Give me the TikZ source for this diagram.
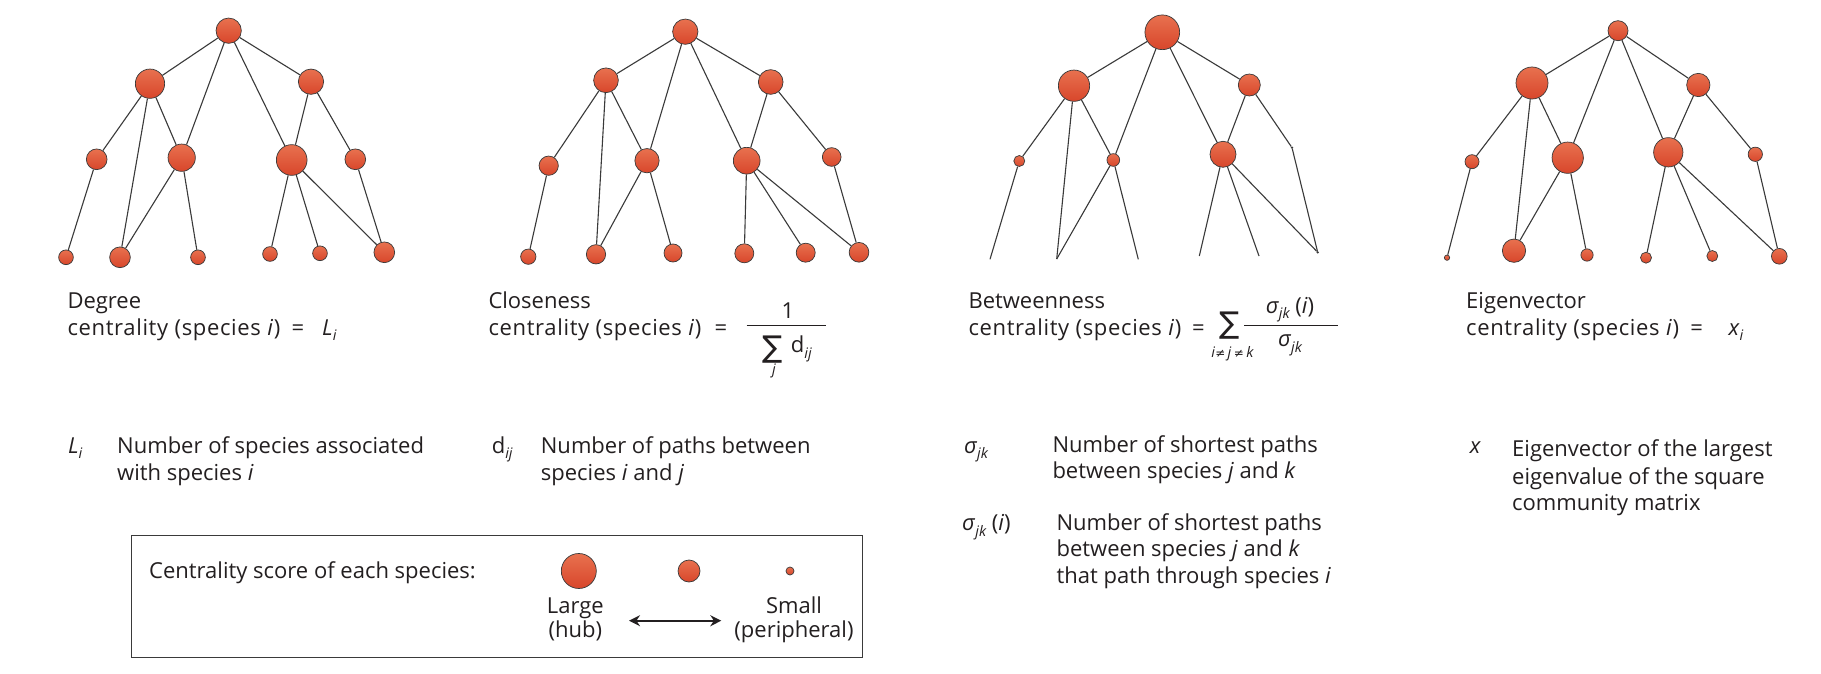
\documentclass[tikz,border=0pt]{standalone}
\usepackage{fontspec}
\setmainfont{Open Sans}
\newfontfamily\symf{DejaVu Sans}
\usetikzlibrary{arrows.meta}
\definecolor{nodetop}{HTML}{E8714F}
\definecolor{nodebot}{HTML}{D8462B}
\definecolor{txt}{HTML}{231F20}
\definecolor{ln}{HTML}{3A3A3A}
\newcommand\lsub[1]{\raisebox{-0.25em}{\fontsize{14.5}{14.5}\selectfont\itshape #1}}
\begin{document}
\begin{tikzpicture}[x=1pt,y=-1pt,
  sp/.style={circle,draw=ln,line width=0.7pt,top color=nodetop,bottom color=nodebot,inner sep=0pt,minimum size=#1},
  dot/.style={circle,fill=ln,inner sep=0pt,minimum size=2.6pt},
  edge/.style={draw=ln,line width=1.1pt},
  lbl/.style={font=\fontsize{22}{27}\selectfont,text=txt,inner sep=0pt,anchor=base west},
  lblc/.style={font=\fontsize{22}{27}\selectfont,text=txt,inner sep=0pt,anchor=base},
  wide/.style={font=\fontsize{22}{27}\selectfont\addfontfeature{LetterSpace=3}},
  sml/.style={font=\fontsize{14.5}{14.5}\selectfont,text=txt,inner sep=0pt,anchor=base},
  sumsym/.style={font=\symf\fontsize{30}{30}\selectfont,text=txt,inner sep=0pt,anchor=center}]
\fill[white] (0,0) rectangle (1821,674);
\useasboundingbox (0,0) rectangle (1821,674);

% ---------- Graph A: Degree ----------
\node[sp=25.3] (Ar) at (228.7,30.7) {};
\node[sp=29.3] (Aa) at (150,83.7) {};
\node[sp=25.3] (Ab) at (311,81.7) {};
\node[sp=20.7] (Ac) at (96.7,159.3) {};
\node[sp=27.3] (Ad) at (181.7,157.7) {};
\node[sp=30.7] (Ae) at (291.7,160) {};
\node[sp=20.7] (Af) at (355.3,159.3) {};
\node[sp=14.7] (Ag) at (66,257.3) {};
\node[sp=20.7] (Ah) at (120,257.3) {};
\node[sp=14.7] (Ak) at (198,257.3) {};
\node[sp=14.7] (Al) at (270,254) {};
\node[sp=14.7] (Am) at (320,253.3) {};
\node[sp=20.7] (An) at (384.3,252.3) {};

% ---------- Graph B: Closeness ----------
\node[sp=25.3] (Br) at (685.3,31.7) {};
\node[sp=24.7] (Ba) at (606,80.3) {};
\node[sp=24.7] (Bb) at (770.7,82) {};
\node[sp=19.3] (Bc) at (548.7,165.7) {};
\node[sp=24.3] (Bd) at (647,160.7) {};
\node[sp=26.7] (Be) at (746.7,160.7) {};
\node[sp=18.7] (Bf) at (831.7,157) {};
\node[sp=15.3] (Bg) at (528.3,256.7) {};
\node[sp=19.3] (Bh) at (596,254.3) {};
\node[sp=18] (Bk) at (673,253) {};
\node[sp=19] (Bl) at (744.3,253.3) {};
\node[sp=19] (Bm) at (805.7,252.7) {};
\node[sp=19.7] (Bn) at (859,252.3) {};

% ---------- Graph C: Betweenness ----------
\node[sp=34.7] (Cr) at (1162.3,32.3) {};
\node[sp=31.3] (Ca) at (1074,85.7) {};
\node[sp=22] (Cb) at (1249.3,85) {};
\node[sp=11] (Cc) at (1019.3,161) {};
\node[sp=12.7] (Cd) at (1113.3,160) {};
\node[sp=26] (Ce) at (1223,154.3) {};
\node[dot] (Cf) at (1292,147.7) {};
\coordinate (Cg) at (990,259.3);
\coordinate (Ch) at (1056.7,259);
\coordinate (Ck) at (1138.3,259.3);
\coordinate (Cl) at (1199.3,256);
\coordinate (Cm) at (1259,256);
\node[dot] (Cn) at (1317.7,252.3) {};

% ---------- Graph D: Eigenvector ----------
\node[sp=20] (Dr) at (1618,30.7) {};
\node[sp=32] (Da) at (1532,83) {};
\node[sp=23.3] (Db) at (1698.3,85) {};
\node[sp=14] (Dc) at (1472,161.7) {};
\node[sp=31.3] (Dd) at (1567.7,157.7) {};
\node[sp=29.3] (De) at (1668.3,152.3) {};
\node[sp=14.3] (Df) at (1755.3,154.3) {};
\node[sp=5.3] (Dg) at (1447,257.7) {};
\node[sp=23.3] (Dh) at (1514,250.7) {};
\node[sp=12.3] (Dk) at (1587,255) {};
\node[sp=11] (Dl) at (1646,257.7) {};
\node[sp=11] (Dm) at (1712.3,256) {};
\node[sp=15.7] (Dn) at (1779.3,256.3) {};

\foreach \p in {A,B,C,D}{
  \foreach \u/\v in {r/a,r/b,r/d,r/e,a/c,a/h,a/d,b/e,b/f,c/g,d/h,d/k,e/l,e/m,e/n,f/n}{
    \draw[edge] (\p\u) -- (\p\v);
  }
}

% ---------- Formulas ----------
\node[lbl] (degT) at (67.3,308.3) {Degree};
\node[lbl,wide] (degC) at (67.3,335) {centrality (species \textit{i})};
\node[lblc] (degEq) at (298,335) {=};
\node[lbl] (degL) at (322,335) {\textit{L}\lsub{i}};

\node[lbl] (cloT) at (488.3,308.3) {Closeness};
\node[lbl,wide] (cloC) at (488.3,335) {centrality (species \textit{i})};
\node[lblc] (cloEq) at (721,335) {=};
\draw[line width=1pt,txt] (746.7,325) -- (826,325);
\node[lblc] (cloOne) at (788,318) {1};
\node[sumsym] (cloSum) at (773,350) {∑};
\node[lbl] (cloD) at (790.7,352.7) {d\lsub{ij}};
\node[sml] (cloJ) at (774,374) {\itshape j};

\node[lbl] (betT) at (968.3,308.3) {Betweenness};
\node[lbl,wide] (betC) at (968.3,335) {centrality (species \textit{i})};
\node[lblc] (betEq) at (1198.3,335) {=};
\node[sumsym] (betSum) at (1230,326) {∑};
\node[sml] (betIdx) at (1232.7,357.3) {\textit{i}{\symf\fontsize{12}{12}\selectfont ≠}\,\textit{j}\,{\symf\fontsize{12}{12}\selectfont ≠}\,\textit{k}};
\draw[line width=1pt,txt] (1244,325) -- (1338.3,325);
\node[lblc] (betNum) at (1290,313.3) {\textit{σ}\lsub{jk} (\textit{i})};
\node[lblc] (betDen) at (1290,346.7) {\textit{σ}\lsub{jk}};

\node[lbl] (eigT) at (1466,308.3) {Eigenvector};
\node[lbl,wide] (eigC) at (1466,335) {centrality (species \textit{i})};
\node[lblc] (eigEq) at (1696.7,335) {=};
\node[lbl] (eigX) at (1728.3,335) {\textit{x}\lsub{i}};

% ---------- Definitions ----------
\node[lbl] (dL) at (68,453.3) {\textit{L}\lsub{i}};
\node[lbl] (dL1) at (117,453.3) {Number of species associated};
\node[lbl] (dL2) at (117,480) {with species \textit{i}};

\node[lbl] (dD) at (491.6,453.3) {d\lsub{ij}};
\node[lbl] (dD1) at (540.7,453.3) {Number of paths between};
\node[lbl] (dD2) at (540.7,480) {species \textit{i} and \textit{j}};

\node[lbl] (dS) at (963.8,453.3) {\textit{σ}\lsub{jk}};
\node[lbl] (dS1) at (1052.3,452.3) {Number of shortest paths};
\node[lbl] (dS2) at (1052.3,478.3) {between species \textit{j} and \textit{k}};

\node[lbl] (dSi) at (962,530.7) {\textit{σ}\lsub{jk} (\textit{i})};
\node[lbl] (dSi1) at (1056.4,530.7) {Number of shortest paths};
\node[lbl] (dSi2) at (1056.4,556.7) {between species \textit{j} and \textit{k}};
\node[lbl] (dSi3) at (1056.4,583.3) {that path through species \textit{i}};

\node[lbl] (dX) at (1469.7,453) {\textit{x}};
\node[lbl] (dX1) at (1512,456.7) {Eigenvector of the largest};
\node[lbl] (dX2) at (1512,484) {eigenvalue of the square};
\node[lbl] (dX3) at (1512,510) {community matrix};

% ---------- Legend ----------
\draw[line width=1pt,ln] (131.6,535.7) rectangle (862,657.3);
\node[lbl] (legT) at (149,578.3) {Centrality score of each species:};
\node[sp=35] (legL) at (578.8,571) {};
\node[sp=22] (legM) at (689,571) {};
\node[sp=8] (legS) at (790,571) {};
\node[lblc] (legL1) at (575.3,613.3) {Large};
\node[lblc] (legL2) at (575.3,637) {(hub)};
\node[lblc] (legS1) at (794,613.3) {Small};
\node[lblc] (legS2) at (794,637) {(peripheral)};
\coordinate (arL) at (629,620.7);
\coordinate (arR) at (721.3,620.7);
\draw[{Stealth[length=11pt,width=11pt]}-{Stealth[length=11pt,width=11pt]},line width=2pt,txt] (arL) -- (arR);
\end{tikzpicture}
\end{document}
